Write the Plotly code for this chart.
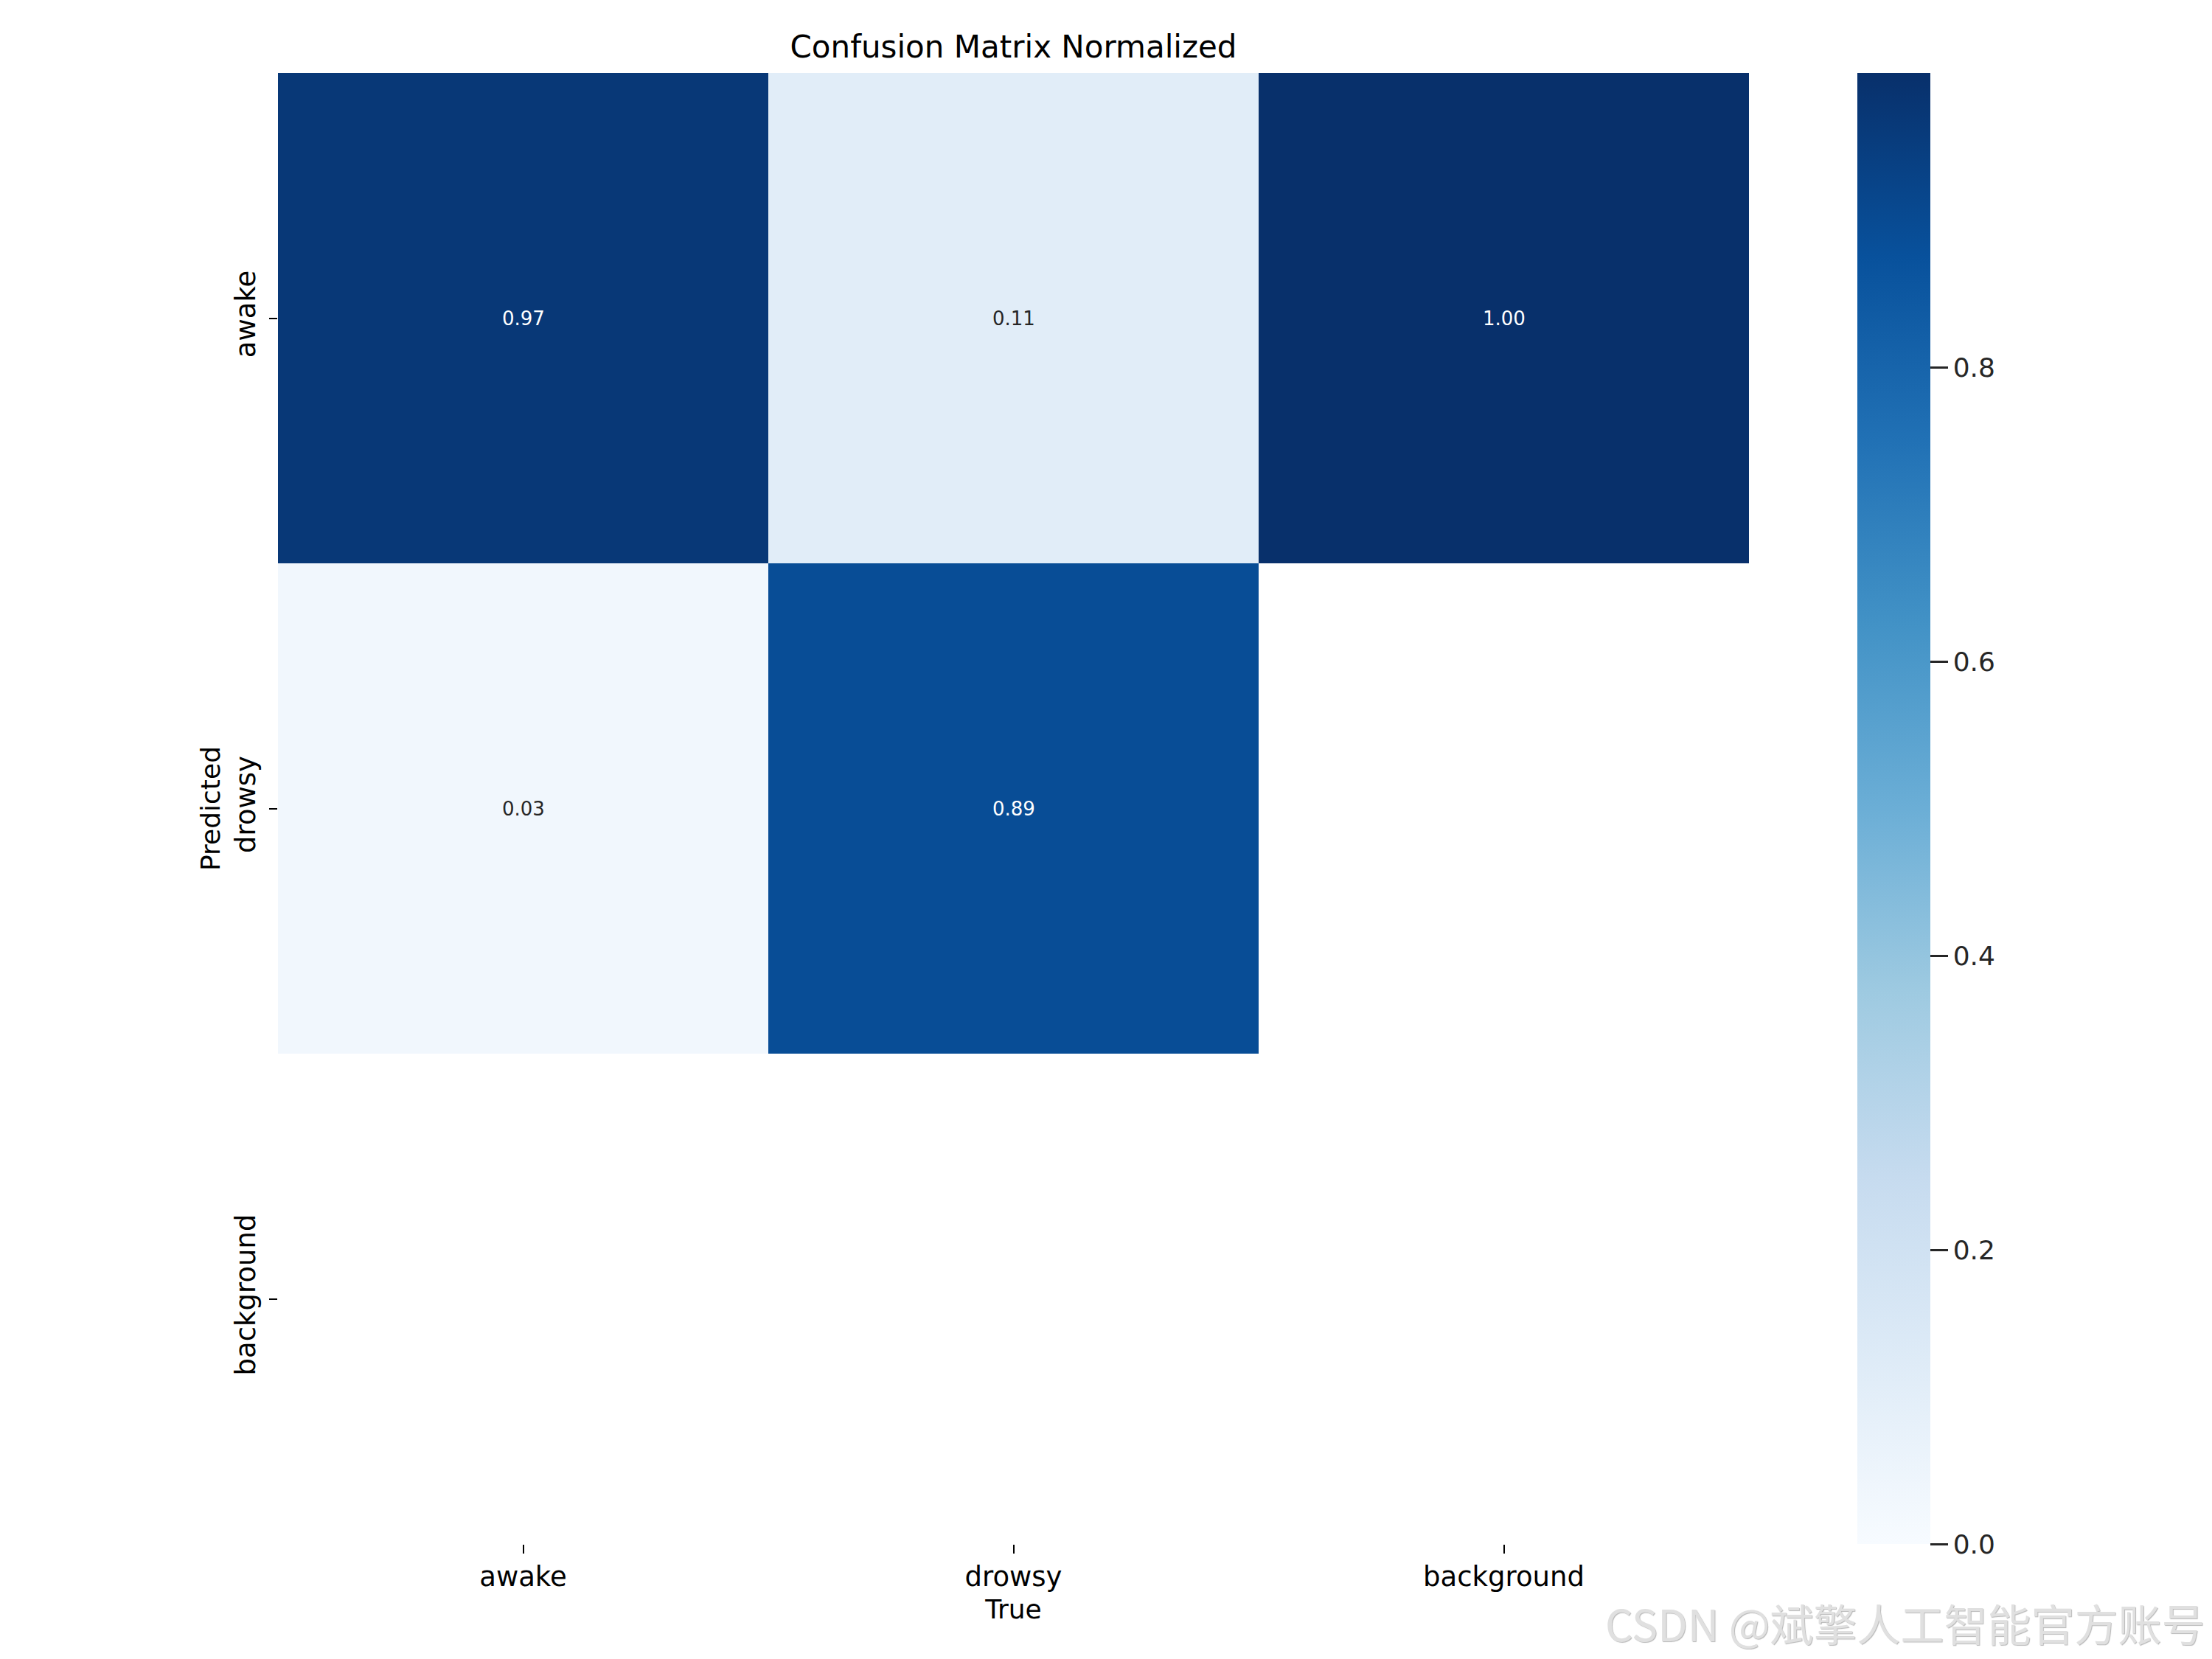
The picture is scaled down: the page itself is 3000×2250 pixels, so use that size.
import plotly.graph_objects as go
import plotly.colors as pc

# ---- data ----
true_labels = ["awake", "drowsy", "background"]
pred_labels = ["awake", "drowsy", "background"]
row_awake = [0.97, 0.11, 1.00]
row_drowsy = [0.03, 0.89, None]
row_background = [None, None, None]
cbar_ticks = [0.0, 0.2, 0.4, 0.6, 0.8]
cbar_ticktext = ["0.0", "0.2", "0.4", "0.6", "0.8"]

z = [row_awake, row_drowsy, row_background]

OFF = 8  # page body margin
W, H = 3000 - OFF, 2250 - OFF
L, T = 377 - OFF, 99 - OFF
R, B = 3000 - 2372, 2250 - 2094
PW, PH = W - L - R, H - T - B
FONT = "DejaVu Sans"

fig = go.Figure()
fig.add_trace(go.Heatmap(
    z=z, x=true_labels, y=pred_labels,
    colorscale=pc.sequential.Blues,
    zmin=0.0, zmax=1.0,
    xgap=0, ygap=0,
    hoverongaps=False,
    colorbar=dict(
        x=(2519 - 377) / PW, xanchor="left",
        y=0.5, yanchor="middle", len=1.0, lenmode="fraction",
        thickness=99, thicknessmode="pixels",
        outlinewidth=0,
        tickvals=cbar_ticks, ticktext=cbar_ticktext,
        ticks="outside", ticklen=24, tickwidth=3, tickcolor="#262626",
        tickfont=dict(family=FONT, size=36, color="#262626"),
        ypad=0, xpad=0,
    ),
))

# cell annotations
for i, row in enumerate(z):
    for j, v in enumerate(row):
        if v is None:
            continue
        fig.add_annotation(
            x=true_labels[j], y=pred_labels[i], text=f"{v:.2f}",
            showarrow=False,
            font=dict(family=FONT, size=26, color="white" if v > 0.5 else "#262626"),
        )

fig.update_layout(
    width=W, height=H,
    margin=dict(l=L, r=R, t=T, b=B, pad=0),
    paper_bgcolor="white", plot_bgcolor="white",
    font=dict(family=FONT, color="black"),
    title=dict(text="Confusion Matrix Normalized", x=(L + PW / 2) / W,
               xanchor="center", y=1 - (63 - OFF) / H, yanchor="middle",
               font=dict(family=FONT, size=42, color="black")),
    showlegend=False,
)
fig.update_xaxes(
    showgrid=False, zeroline=False, showline=False,
    ticks="outside", ticklen=12, tickwidth=2, tickcolor="black",
    tickfont=dict(family=FONT, size=37, color="black"),
    title=dict(text="True", font=dict(family=FONT, size=36, color="black"), standoff=10),
    range=[-0.5, 2.5],
)
fig.update_yaxes(
    showgrid=False, zeroline=False, showline=False,
    autorange=False, range=[2.5, -0.5],
    ticks="outside", ticklen=11, tickwidth=2, tickcolor="black",
    tickangle=-90, ticklabelstandoff=4,
    tickfont=dict(family=FONT, size=37, color="black"),
    title=dict(text="Predicted", font=dict(family=FONT, size=36, color="black"), standoff=2),
)

# watermark
fig.add_annotation(
    xref="paper", yref="paper",
    x=(2993 - 377) / PW, y=-(2200 - 2094) / PH,
    xanchor="right", yanchor="middle",
    text="CSDN @斌擎人工智能官方账号", showarrow=False,
    font=dict(family="Noto Sans CJK SC", size=59, color="#e0e0e0",
              shadow="1px 1px 1px #b8b8b8"),
)

fig.write_html("out.html")
